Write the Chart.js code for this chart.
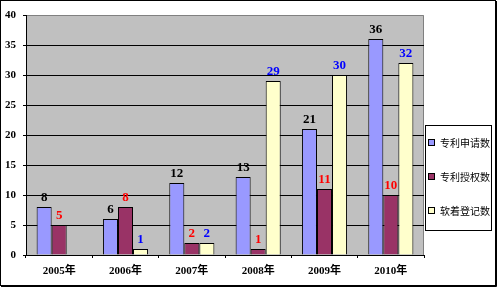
<!DOCTYPE html>
<html>
<head>
<meta charset="utf-8">
<script src="https://cdn.jsdelivr.net/npm/chart.js@4/dist/chart.umd.min.js"></script>
<style>
  html, body { margin: 0; padding: 0; background: #fff; }
  canvas { display: block; }
</style>
</head>
<body>
<canvas id="patentChart" width="497" height="287"></canvas>
<script>
var years = ["2005年", "2006年", "2007年", "2008年", "2009年", "2010年"];
var seriesNames = ["专利申请数", "专利授权数", "软着登记数"];
var applications = [8, 6, 12, 13, 21, 36];
var grants = [5, 8, 2, 1, 11, 10];
var softwareRegs = [null, 1, 2, 29, 30, 32];
var yTicks = [0, 5, 10, 15, 20, 25, 30, 35, 40];

var fills = ["#9999FF", "#993366", "#FFFFCC"];
var labelColors = ["#000000", "#FF0000", "#0000FF"];

// gray plot background + outer frame
var backgroundPlugin = {
  id: "backgroundPlugin",
  beforeDraw: function(chart) {
    var ctx = chart.ctx, a = chart.chartArea;
    ctx.save();
    ctx.fillStyle = "#C0C0C0";
    ctx.fillRect(a.left, a.top, a.right - a.left, a.bottom - a.top);
    ctx.strokeStyle = "#808080";
    ctx.lineWidth = 1;
    ctx.beginPath();
    ctx.moveTo(a.left, a.top + 0.5);
    ctx.lineTo(a.right - 0.5, a.top + 0.5);
    ctx.lineTo(a.right - 0.5, a.bottom);
    ctx.stroke();
    ctx.restore();
  },
  afterDraw: function(chart) {
    var ctx = chart.ctx;
    ctx.save();
    ctx.strokeStyle = "#000";
    ctx.lineWidth = 1;
    ctx.strokeRect(0.5, 0.5, chart.width - 2, chart.height - 2);
    ctx.beginPath();
    ctx.moveTo(chart.width - 0.5, 1);
    ctx.lineTo(chart.width - 0.5, chart.height - 0.5);
    ctx.lineTo(1, chart.height - 0.5);
    ctx.stroke();
    ctx.restore();
  }
};

// values above the bars
var valueLabels = {
  id: "valueLabels",
  afterDatasetsDraw: function(chart) {
    var ctx = chart.ctx;
    ctx.save();
    ctx.font = "bold 13px 'Liberation Serif', serif";
    ctx.textAlign = "center";
    ctx.textBaseline = "alphabetic";
    chart.data.datasets.forEach(function(ds, i) {
      var meta = chart.getDatasetMeta(i);
      ctx.fillStyle = labelColors[i];
      meta.data.forEach(function(bar, j) {
        var v = ds.data[j];
        if (v === null) return;
        ctx.fillText(String(v), bar.x, bar.y - 6);
      });
    });
    ctx.restore();
  }
};

// boxed legend on the right
var boxLegend = {
  id: "boxLegend",
  afterDraw: function(chart) {
    var ctx = chart.ctx;
    var x = 425, y = 125, w = 66, h = 105;
    ctx.save();
    ctx.fillStyle = "#fff";
    ctx.fillRect(x, y, w, h);
    ctx.strokeStyle = "#000";
    ctx.lineWidth = 1;
    ctx.strokeRect(x + 0.5, y + 0.5, w, h);
    ctx.font = "10px 'Noto Sans CJK SC', sans-serif";
    ctx.textBaseline = "middle";
    ctx.textAlign = "left";
    var centers = [143, 177, 211];
    chart.data.datasets.forEach(function(ds, i) {
      var cy = centers[i];
      ctx.fillStyle = ds.backgroundColor;
      ctx.fillRect(428, cy - 4, 7, 7);
      ctx.strokeStyle = "#000";
      ctx.strokeRect(428.5, cy - 3.5, 6, 6);
      ctx.fillStyle = "#000";
      ctx.fillText(ds.label, 440, cy);
    });
    ctx.restore();
  }
};

var chartCanvas = document.getElementById("patentChart").getContext("2d");

var patentChart = new Chart(chartCanvas, {
  type: "bar",
  data: {
    labels: years,
    datasets: [
      { label: seriesNames[0], data: applications, backgroundColor: fills[0], borderColor: "#000", borderWidth: 1 },
      { label: seriesNames[1], data: grants, backgroundColor: fills[1], borderColor: "#000", borderWidth: 1 },
      { label: seriesNames[2], data: softwareRegs, backgroundColor: fills[2], borderColor: "#000", borderWidth: 1 }
    ]
  },
  options: {
    responsive: false,
    animation: false,
    events: [],
    layout: { padding: { top: 15, right: 73, left: 0, bottom: 0 } },
    datasets: { bar: { categoryPercentage: 0.68, barPercentage: 1.0 } },
    plugins: {
      legend: { display: false },
      tooltip: { enabled: false }
    },
    scales: {
      x: {
        afterFit: function(scale) { scale.height = 32; },
        grid: { drawOnChartArea: false, tickLength: 3, tickColor: "#000" },
        border: { color: "#000", width: 1 },
        ticks: {
          color: "#000",
          padding: 7,
          font: { family: "'Liberation Serif', 'Noto Sans CJK SC', serif", size: 11, weight: "bold" }
        }
      },
      y: {
        min: 0,
        max: 40,
        afterFit: function(scale) { scale.width = 26; },
        afterBuildTicks: function(scale) {
          scale.ticks = yTicks.map(function(v) { return { value: v }; });
        },
        grid: {
          color: function(c) { return c.tick && c.tick.value === 40 ? "rgba(0,0,0,0)" : "#000"; },
          lineWidth: 1,
          tickLength: 3,
          tickColor: "#000"
        },
        border: { color: "#000", width: 1 },
        ticks: {
          color: "#000",
          padding: 7,
          font: { family: "'Liberation Serif', serif", size: 11, weight: "bold" }
        }
      }
    }
  },
  plugins: [backgroundPlugin, valueLabels, boxLegend]
});
</script>
</body>
</html>
